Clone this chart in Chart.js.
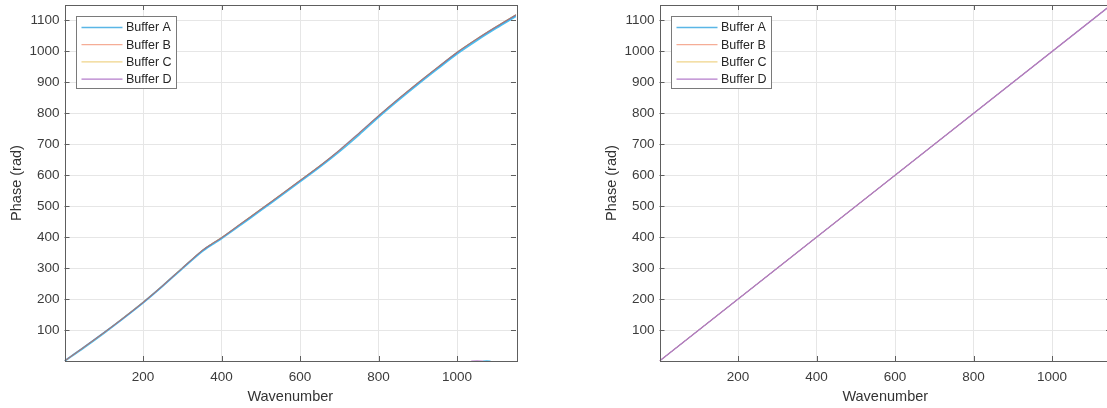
<!DOCTYPE html>
<html>
<head>
<meta charset="utf-8">
<script src="https://cdn.jsdelivr.net/npm/chart.js@4.4.0/dist/chart.umd.min.js"></script>
<style>
html, body { margin: 0; padding: 0; background: #fff; overflow: hidden; width: 1107px; height: 408px; }
canvas { position: absolute; top: 0; }
#left { left: 0; }
#right { left: 595px; }
</style>
</head>
<body>
<canvas id="left" width="540" height="408"></canvas>
<canvas id="right" width="540" height="408"></canvas>
<script>
// data
const seriesNames = ['Buffer A', 'Buffer B', 'Buffer C', 'Buffer D'];
const xTicks = [200, 400, 600, 800, 1000];
const yTicks = [100, 200, 300, 400, 500, 600, 700, 800, 900, 1000, 1100];

const leftWavenumber = [0, 50, 100, 150, 200, 250, 300, 350, 375, 400, 450, 500, 550, 600, 650, 700, 750, 800, 850, 900, 950, 1000, 1050, 1100, 1150];
const leftBufferA = [0, 44, 90, 138, 188, 242, 299, 354, 376, 396, 441, 487, 533, 580, 627, 677, 731, 788, 842, 894, 944, 993, 1036, 1076, 1114];
const leftBufferB = [0, 45, 91, 139, 189, 243, 300, 356, 378, 398, 444, 490, 536, 583, 630, 680, 735, 792, 846, 898, 948, 997, 1040, 1080, 1118];
const leftBufferC = [0, 45, 91, 140, 190, 244, 301, 357, 379, 399, 445, 491, 537, 584, 631, 681, 736, 793, 847, 899, 949, 998, 1041, 1081, 1119];
const leftBufferD = [0, 45, 91, 139, 189, 243, 300, 356, 378, 398, 444, 490, 536, 583, 630, 681, 736, 792, 846, 898, 948, 997, 1040, 1080, 1118];

// small stray bits lying on the x axis near 1050
const strayWavenumberD = [1036, 1066];
const strayBufferD = [-1, -1];
const strayWavenumberA = [1066, 1085];
const strayBufferA = [-1, -1];

const rightWavenumber = [0, 1150];
const rightBufferA = [0, 1150];
const rightBufferB = [0, 1150];
const rightBufferC = [0, 1150];
const rightBufferD = [0, 1150];

const legendColors = ['#5ab6e6', '#f5ad96', '#efd48a', '#b47ccb'];
const fontFamily = "'Liberation Sans', Arial, sans-serif";

function points(xs, ys) {
    return xs.map((x, i) => ({ x: x, y: ys[i] }));
}

// box, inner ticks and legend drawn like the original figure
const matlabBox = {
    id: 'matlabBox',
    afterDatasetsDraw(chart) {
        const ctx = chart.ctx;
        const a = chart.chartArea;
        const xs = chart.scales.x;
        const ys = chart.scales.y;
        ctx.save();
        ctx.strokeStyle = '#5e5e5e';
        ctx.lineWidth = 1;
        ctx.beginPath();
        xTicks.forEach(v => {
            const p = Math.round(xs.getPixelForValue(v)) + 0.5;
            ctx.moveTo(p, a.bottom); ctx.lineTo(p, a.bottom - 5);
            ctx.moveTo(p, a.top); ctx.lineTo(p, a.top + 5);
        });
        yTicks.forEach(v => {
            const p = Math.round(ys.getPixelForValue(v)) + 0.5;
            ctx.moveTo(a.left, p); ctx.lineTo(a.left + 5, p);
            ctx.moveTo(a.right, p); ctx.lineTo(a.right - 5, p);
        });
        ctx.stroke();
        ctx.strokeRect(Math.round(a.left) + 0.5, Math.round(a.top) + 0.5,
            Math.round(a.right - a.left), Math.round(a.bottom - a.top));
        ctx.restore();
    },
    afterDraw(chart) {
        const ctx = chart.ctx;
        const a = chart.chartArea;
        const bx = Math.round(a.left + 11.5) + 0.5;
        const by = Math.round(a.top + 10.7) + 0.5;
        ctx.save();
        ctx.fillStyle = '#fff';
        ctx.fillRect(bx, by, 100, 72);
        ctx.strokeStyle = '#7a7a7a';
        ctx.lineWidth = 1;
        ctx.strokeRect(bx, by, 100, 72);
        ctx.font = '12.5px ' + fontFamily;
        ctx.textBaseline = 'middle';
        seriesNames.forEach((name, i) => {
            const y = by + 11 + i * 17.2;
            ctx.strokeStyle = legendColors[i];
            ctx.lineWidth = 1.3;
            ctx.beginPath();
            ctx.moveTo(bx + 5, y); ctx.lineTo(bx + 46, y);
            ctx.stroke();
            ctx.fillStyle = '#262626';
            ctx.fillText(name, bx + 49.5, y + 0.5);
        });
        ctx.restore();
    }
};

function makeChart(id, datasets) {
    return new Chart(document.getElementById(id), {
        type: 'line',
        data: { datasets: datasets },
        options: {
            responsive: false,
            animation: false,
            events: [],
            layout: { padding: { top: 5, right: 24, left: 0, bottom: 0 } },
            elements: { point: { radius: 0 }, line: { tension: 0.3 } },
            plugins: { legend: { display: false }, tooltip: { enabled: false } },
            scales: {
                x: {
                    type: 'linear',
                    min: 0,
                    max: 1150,
                    afterBuildTicks: s => { s.ticks = xTicks.map(v => ({ value: v })); },
                    afterFit: s => { s.height = 47; s.paddingLeft = 0; s.paddingRight = 0; },
                    grid: { color: '#e6e6e6', drawTicks: false },
                    border: { display: false },
                    ticks: { padding: 8, color: '#3c3c3c', font: { family: fontFamily, size: 13.5 }, maxRotation: 0, callback: v => String(v) },
                    title: { display: true, text: 'Wavenumber', color: '#333', font: { family: fontFamily, size: 14.5 }, padding: { top: 0, bottom: 2 } }
                },
                y: {
                    type: 'linear',
                    min: 0,
                    max: 1150,
                    afterBuildTicks: s => { s.ticks = yTicks.map(v => ({ value: v })); },
                    afterFit: s => { s.width = 64.5; s.paddingTop = 0; s.paddingBottom = 0; },
                    grid: { color: '#e6e6e6', drawTicks: false },
                    border: { display: false },
                    ticks: { padding: 5, color: '#3c3c3c', font: { family: fontFamily, size: 13.5 }, callback: v => String(v) },
                    title: { display: true, text: 'Phase (rad)', color: '#333', font: { family: fontFamily, size: 14.5 }, padding: { top: 8.5, bottom: 0 } }
                }
            }
        },
        plugins: [matlabBox]
    });
}

makeChart('left', [
    { label: 'Buffer A', data: points(leftWavenumber, leftBufferA), borderColor: '#4dbeee', borderWidth: 2, order: 4 },
    { label: 'Buffer B', data: points(leftWavenumber, leftBufferB), borderColor: '#f0a080', borderWidth: 1, order: 3 },
    { label: 'Buffer C', data: points(leftWavenumber, leftBufferC), borderColor: '#edc060', borderWidth: 1, order: 2 },
    { label: 'Buffer D', data: points(leftWavenumber, leftBufferD), borderColor: 'rgba(90,70,150,0.55)', borderWidth: 1.3, order: 1 },
    { label: 'Buffer D', data: points(strayWavenumberD, strayBufferD), borderColor: '#c08ad0', borderWidth: 1.5, order: 0 },
    { label: 'Buffer A', data: points(strayWavenumberA, strayBufferA), borderColor: '#4dbeee', borderWidth: 1.5, order: 0 }
]);

makeChart('right', [
    { label: 'Buffer A', data: points(rightWavenumber, rightBufferA), borderColor: '#4dbeee', borderWidth: 1, order: 4 },
    { label: 'Buffer B', data: points(rightWavenumber, rightBufferB), borderColor: '#f0a080', borderWidth: 1, order: 3 },
    { label: 'Buffer C', data: points(rightWavenumber, rightBufferC), borderColor: '#edc060', borderWidth: 1, order: 2 },
    { label: 'Buffer D', data: points(rightWavenumber, rightBufferD), borderColor: '#b07cc4', borderWidth: 1.4, order: 1 }
]);
</script>
</body>
</html>
